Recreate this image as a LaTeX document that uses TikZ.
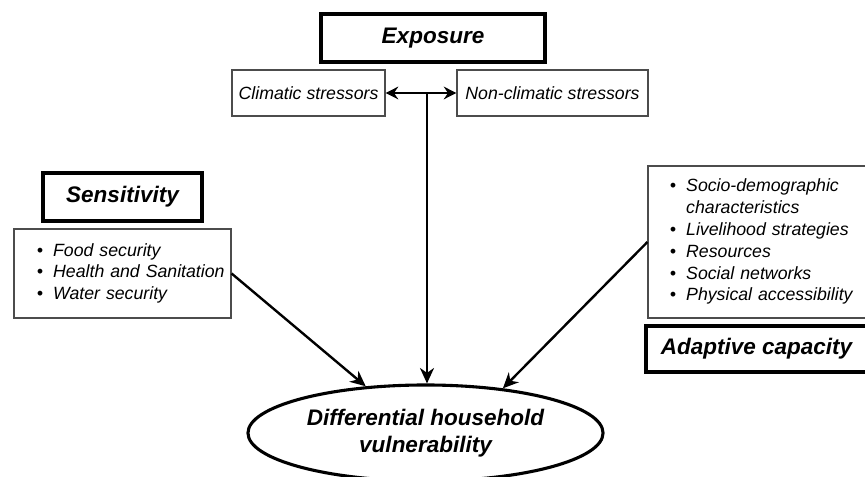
\documentclass[tikz,border=0pt]{standalone}
\usepackage{fontspec}
\setmainfont{Liberation Sans}
\usetikzlibrary{arrows.meta,shapes.geometric}

\newcommand{\listfont}{\fontsize{12.6}{15.5}\selectfont\itshape}
\newcommand{\headfont}{\fontsize{16}{19}\selectfont\bfseries\itshape}

\begin{document}
\begin{tikzpicture}[x=0.025cm, y=-0.025cm,
  headbox/.style={draw, line width=2.2pt, inner sep=0pt, font=\headfont},
  itembox/.style={draw=black!70, line width=0.8pt, inner sep=0pt, font=\listfont},
  listbox/.style={draw=black!70, line width=0.8pt, inner xsep=0.2cm, inner ysep=0pt, font=\listfont, align=left},
  arr/.style={line width=1.7pt, -{Stealth[length=11pt,width=10pt,inset=3.5pt]}},
  dblarr/.style={line width=1.7pt, {Stealth[length=9pt,width=9pt,inset=3pt]}-{Stealth[length=9pt,width=9pt,inset=3pt]}}]
\useasboundingbox (0,0) rectangle (865,477);

% exposure
\node[headbox, minimum width=5.6cm, minimum height=1.2cm] (expo) at (433,38) {Exposure};
\node[itembox, minimum width=3.825cm, minimum height=1.15cm] (clim) at (308.5,93) {Climatic stressors};
\node[itembox, minimum width=4.775cm, minimum height=1.15cm] (nonclim) at (552.5,93) {Non-climatic stressors};
\coordinate (junc) at (427,93);

% sensitivity
\node[headbox, minimum width=3.975cm, minimum height=1.2cm] (sens) at (122.5,197) {Sensitivity};
\node[listbox, text width=5.025cm, minimum height=2.225cm] (senslist) at (122.5,273.5) {%
\begin{tabular}{@{\hspace{0.375cm}}l@{\hspace{0.25cm}}l@{}}
\textbullet & Food security\\
\textbullet & Health and Sanitation\\
\textbullet & Water security
\end{tabular}};

% adaptive capacity
\node[listbox, text width=5.05cm, minimum height=3.8cm] (adaptlist) at (757,242) {%
\begin{tabular}{@{\hspace{0.35cm}}l@{\hspace{0.25cm}}l@{}}
\textbullet & Socio-demographic\\
 & characteristics\\
\textbullet & Livelihood strategies\\
\textbullet & Resources\\
\textbullet & Social networks\\
\textbullet & Physical accessibility
\end{tabular}};
\node[headbox, minimum width=5.525cm, minimum height=1.15cm] (adapt) at (756.5,349) {Adaptive capacity};

% outcome
\node[ellipse, draw, line width=2.2pt, inner sep=0pt, minimum width=8.875cm, minimum height=2.4cm,
  font=\headfont, align=center] (vul) at (425.5,433) {Differential household\\vulnerability};

\draw[dblarr] (clim) -- (nonclim);
\draw[arr] (junc) -- (junc |- vul.north);
\draw[arr] (senslist.east) -- (vul.142);
\draw[arr] (adaptlist.west) -- (vul.30);
\end{tikzpicture}
\end{document}
